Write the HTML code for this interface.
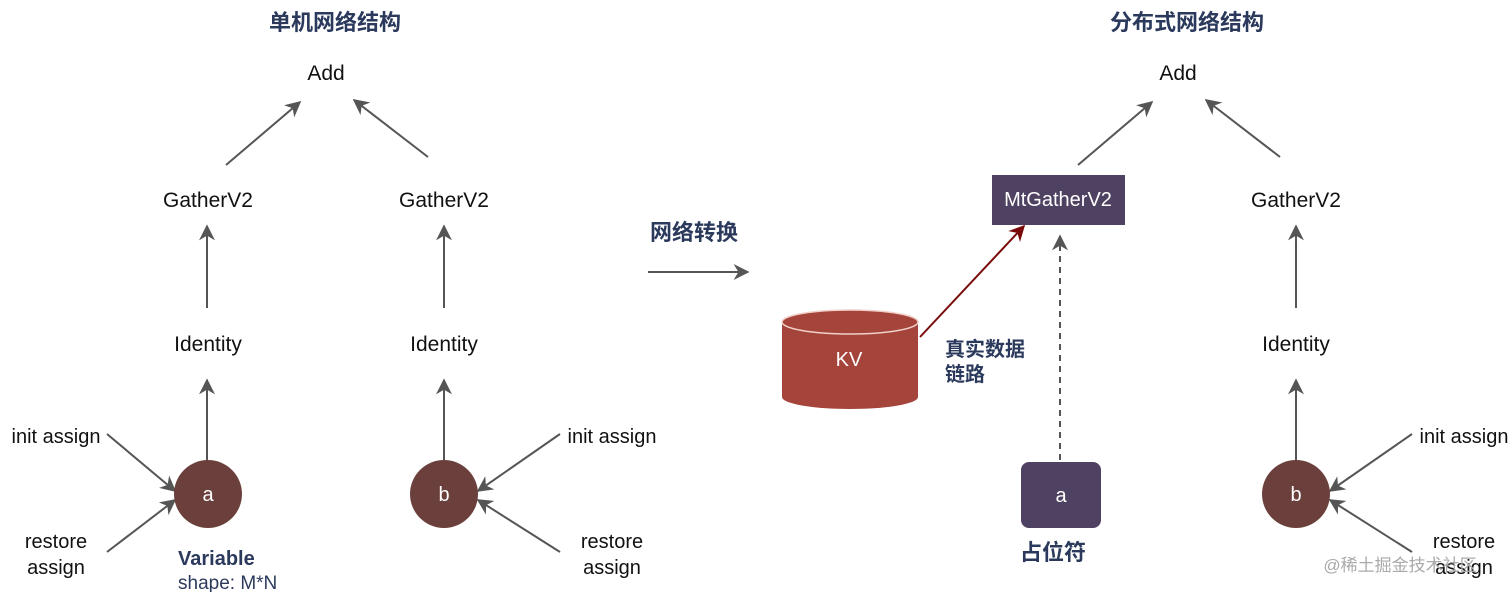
<!DOCTYPE html>
<html><head><meta charset="utf-8"><style>
html,body{margin:0;padding:0;background:#fff;}
svg{display:block;}
text{font-family:"Liberation Sans","Noto Sans CJK SC",sans-serif;}
</style></head><body>
<svg width="1512" height="592" viewBox="0 0 1512 592" xmlns="http://www.w3.org/2000/svg">
<defs>
<marker id="ah" viewBox="0 0 10 10" refX="9" refY="5" markerWidth="16" markerHeight="16" orient="auto" markerUnits="userSpaceOnUse"><path d="M0,0 L10,5 L0,10 L3,5 z" fill="#555"/></marker>
<marker id="ahr" viewBox="0 0 10 10" refX="9" refY="5" markerWidth="16" markerHeight="16" orient="auto" markerUnits="userSpaceOnUse"><path d="M0,0 L10,5 L0,10 L3,5 z" fill="#7a0a0a"/></marker>
</defs>
<g stroke="#555" stroke-width="2" fill="none" marker-end="url(#ah)">
<line x1="226" y1="165" x2="300" y2="102"/>
<line x1="428" y1="157" x2="354" y2="100"/>
<line x1="207" y1="308" x2="207" y2="226"/>
<line x1="444" y1="308" x2="444" y2="226"/>
<line x1="207" y1="462" x2="207" y2="380"/>
<line x1="444" y1="462" x2="444" y2="380"/>
<line x1="107" y1="434" x2="175" y2="491"/>
<line x1="107" y1="552" x2="175" y2="500"/>
<line x1="560" y1="434" x2="478" y2="491"/>
<line x1="560" y1="552" x2="478" y2="500"/>
<line x1="648" y1="272" x2="748" y2="272"/>
<line x1="1078" y1="165" x2="1152" y2="102"/>
<line x1="1280" y1="157" x2="1206" y2="100"/>
<line x1="1296" y1="308" x2="1296" y2="226"/>
<line x1="1296" y1="462" x2="1296" y2="380"/>
<line x1="1412" y1="434" x2="1330" y2="491"/>
<line x1="1412" y1="552" x2="1330" y2="500"/>
<line x1="1060" y1="460" x2="1060" y2="236" stroke-dasharray="6,5"/>
</g>
<line x1="920" y1="337" x2="1024" y2="226" stroke="#7a0a0a" stroke-width="2" marker-end="url(#ahr)"/>
<g font-size="21" fill="#111" text-anchor="middle">
<text x="326" y="80">Add</text>
<text x="208" y="207">GatherV2</text>
<text x="444" y="207">GatherV2</text>
<text x="208" y="351">Identity</text>
<text x="444" y="351">Identity</text>
<text x="1178" y="80">Add</text>
<text x="1296" y="207">GatherV2</text>
<text x="1296" y="351">Identity</text>
</g>
<g font-size="20" fill="#111" text-anchor="middle">
<text x="56" y="443">init assign</text>
<text x="56" y="548">restore</text><text x="56" y="574">assign</text>
<text x="612" y="443">init assign</text>
<text x="612" y="548">restore</text><text x="612" y="574">assign</text>
<text x="1464" y="443">init assign</text>
<text x="1464" y="548">restore</text><text x="1464" y="574">assign</text>
</g>
<circle cx="208" cy="494" r="34" fill="#6b3f3c"/>
<circle cx="444" cy="494" r="34" fill="#6b3f3c"/>
<circle cx="1296" cy="494" r="34" fill="#6b3f3c"/>
<g font-size="20" fill="#fff" text-anchor="middle">
<text x="208" y="501">a</text><text x="444" y="501">b</text><text x="1296" y="501">b</text>
</g>
<g fill="#2b3a5c" font-weight="bold" font-size="22" text-anchor="middle">
<text x="335" y="30">单机网络结构</text>
<text x="1187" y="30">分布式网络结构</text>
<text x="694" y="240">网络转换</text>
<text x="1053" y="560">占位符</text>
</g>
<text x="178" y="565" font-size="20" font-weight="bold" fill="#2b3a5c">Variable</text>
<text x="178" y="589" font-size="19" fill="#2b3a5c">shape: M*N</text>
<text x="945" y="356" font-size="20" font-weight="bold" fill="#2b3a5c">真实数据</text>
<text x="945" y="381" font-size="20" font-weight="bold" fill="#2b3a5c">链路</text>
<rect x="992" y="175" width="133" height="50" fill="#4f4161"/>
<text x="1058" y="206" font-size="20" fill="#fff" text-anchor="middle">MtGatherV2</text>
<rect x="1021" y="462" width="80" height="66" rx="8" fill="#4f4161"/>
<text x="1061" y="502" font-size="20" fill="#fff" text-anchor="middle">a</text>
<path d="M782,322 L782,397 A68,12 0 0 0 918,397 L918,322" fill="#a5443b"/>
<ellipse cx="850" cy="322" rx="68" ry="12" fill="#a5443b" stroke="#f0d0c8" stroke-width="1.5"/>
<text x="849" y="366" font-size="20" fill="#fff" text-anchor="middle">KV</text>
<text x="1400" y="571" font-size="17" fill="#aaa" text-anchor="middle">@稀土掘金技术社区</text>
</svg>
</body></html>
